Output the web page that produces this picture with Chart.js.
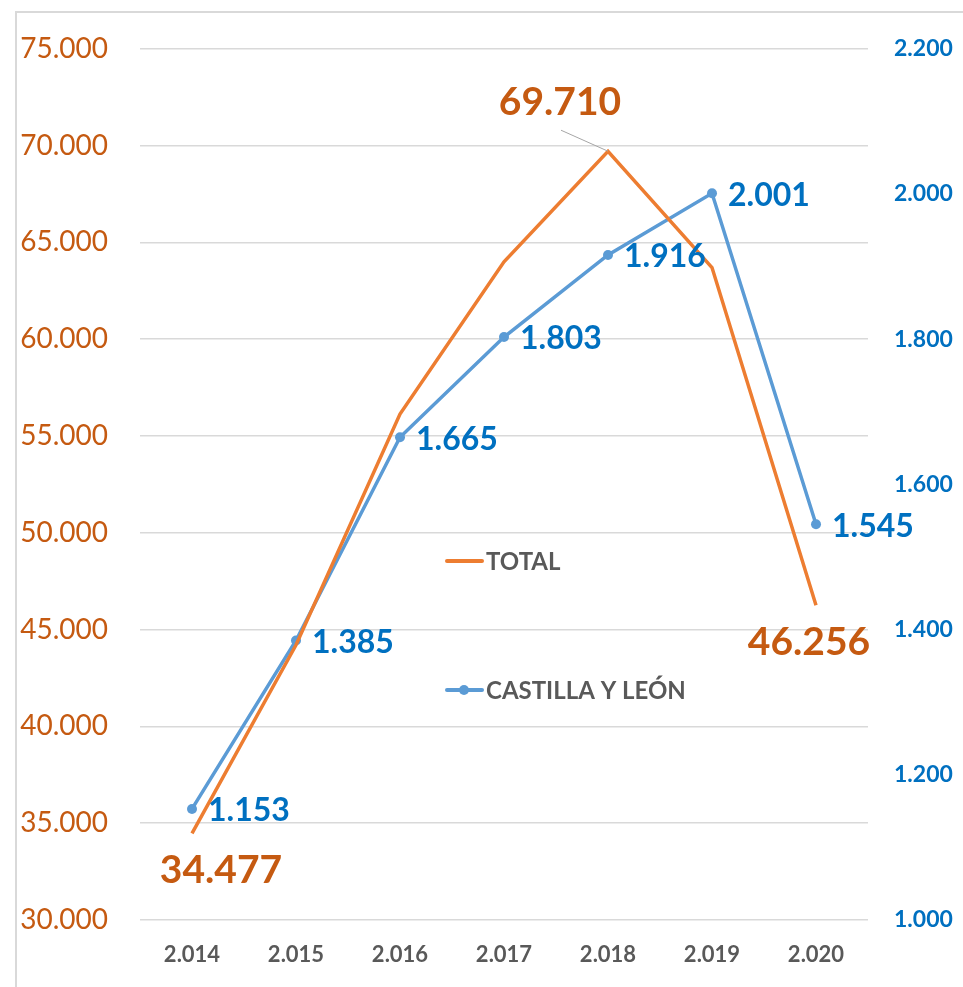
<!DOCTYPE html>
<html>
<head>
<meta charset="utf-8">
<script src="https://cdn.jsdelivr.net/npm/chart.js@4"></script>
<style>
  html, body { margin: 0; padding: 0; background: #fff; }
  #wrap { position: relative; width: 963px; height: 987px; overflow: hidden; }
  #frame { position: absolute; left: 15px; top: 11px; width: 1000px; height: 1000px;
           border-left: 2px solid #d9d9d9; border-top: 2px solid #d9d9d9; }
  canvas { position: absolute; left: 0; top: 0; }
</style>
</head>
<body>
<div id="wrap">
  <div id="frame"></div>
  <canvas id="chart" width="963" height="987"></canvas>
</div>
<script>
// datos
const years = ["2.014", "2.015", "2.016", "2.017", "2.018", "2.019", "2.020"];
const total = [34477, 44200, 56130, 64000, 69710, 63700, 46256];
const castilla = [1153, 1385, 1665, 1803, 1916, 2001, 1545];
const leftTicks = [30000, 75000, 5000];
const rightTicks = [1000, 2200, 200];

const ORANGE = "#ED7D31";
const ORANGE_TXT = "#C55A11";
const BLUE = "#5B9BD5";
const BLUE_TXT = "#0070C0";
const GREY = "#595959";
const FONT = "Lato, 'Open Sans', sans-serif";

function fmt(n) {
  return n.toLocaleString("de-DE");
}

// etiquetas de los puntos
const valueLabels = {
  id: "valueLabels",
  afterDatasetsDraw(chart) {
    const ctx = chart.ctx;
    ctx.save();

    // serie azul: etiqueta a la derecha de cada punto
    const blue = chart.getDatasetMeta(1).data;
    ctx.font = "bold 32px " + FONT;
    ctx.fillStyle = BLUE_TXT;
    ctx.textAlign = "left";
    ctx.textBaseline = "middle";
    blue.forEach((p, i) => {
      ctx.fillText(fmt(castilla[i]), p.x + 16, p.y + 2);
    });

    // serie naranja: solo primero, máximo y último
    const orange = chart.getDatasetMeta(0).data;
    ctx.font = "bold 39px " + FONT;
    ctx.fillStyle = ORANGE_TXT;
    ctx.textAlign = "center";
    const shown = [
      { i: 0, dx: 29, dy: 37 },
      { i: 4, dx: -48, dy: -49 },
      { i: 6, dx: -7, dy: 37 },
    ];
    shown.forEach((s) => {
      const p = orange[s.i];
      ctx.fillText(fmt(total[s.i]), p.x + s.dx, p.y + s.dy);
    });

    // línea guía del máximo
    const peak = orange[4];
    ctx.strokeStyle = "#a6a6a6";
    ctx.lineWidth = 1;
    ctx.beginPath();
    ctx.moveTo(peak.x - 47, peak.y - 21);
    ctx.lineTo(peak.x, peak.y);
    ctx.stroke();
    ctx.restore();
  },
};

// leyenda dentro del gráfico
const innerLegend = {
  id: "innerLegend",
  afterDraw(chart) {
    const ctx = chart.ctx;
    const items = [
      { text: "TOTAL", color: ORANGE, marker: false, y: 561 },
      { text: "CASTILLA Y LEÓN", color: BLUE, marker: true, y: 690 },
    ];
    ctx.save();
    ctx.font = "bold 24px " + FONT;
    ctx.textAlign = "left";
    ctx.textBaseline = "middle";
    items.forEach((it) => {
      ctx.strokeStyle = it.color;
      ctx.lineWidth = 4;
      ctx.lineCap = "round";
      ctx.beginPath();
      ctx.moveTo(447, it.y);
      ctx.lineTo(482, it.y);
      ctx.stroke();
      if (it.marker) {
        ctx.fillStyle = it.color;
        ctx.beginPath();
        ctx.arc(464, it.y, 5, 0, Math.PI * 2);
        ctx.fill();
      }
      ctx.fillStyle = GREY;
      ctx.fillText(it.text, 486, it.y + 1);
    });
    ctx.restore();
  },
};

new Chart(document.getElementById("chart"), {
  type: "line",
  data: {
    labels: years,
    datasets: [
      {
        label: "TOTAL",
        data: total,
        borderColor: ORANGE,
        borderWidth: 3.5,
        pointRadius: 0,
        tension: 0,
        yAxisID: "y",
      },
      {
        label: "CASTILLA Y LEÓN",
        data: castilla,
        borderColor: BLUE,
        backgroundColor: BLUE,
        borderWidth: 3.5,
        pointRadius: 5,
        pointBorderWidth: 0,
        tension: 0,
        yAxisID: "y1",
      },
    ],
  },
  options: {
    responsive: false,
    animation: false,
    layout: { padding: { top: 47, left: 0, right: 0, bottom: 0 } },
    plugins: {
      legend: { display: false },
      tooltip: { enabled: false },
    },
    scales: {
      x: {
        offset: true,
        grid: { display: false, offset: true },
        border: { display: false },
        ticks: {
          color: GREY,
          font: { family: FONT, size: 22, weight: "bold" },
          padding: 14,
        },
        afterFit(scale) { scale.height = 67; },
      },
      y: {
        position: "left",
        min: leftTicks[0],
        max: leftTicks[1],
        grid: { color: "#d9d9d9", lineWidth: 1.5, drawTicks: false },
        border: { display: false },
        ticks: {
          stepSize: leftTicks[2],
          color: ORANGE_TXT,
          font: { family: FONT, size: 28 },
          padding: 32,
          callback: (v) => fmt(v),
        },
        afterFit(scale) { scale.width = 140; },
      },
      y1: {
        position: "right",
        min: rightTicks[0],
        max: rightTicks[1],
        grid: { display: false },
        border: { display: false },
        ticks: {
          stepSize: rightTicks[2],
          color: BLUE_TXT,
          font: { family: FONT, size: 23, weight: "bold" },
          padding: 18,
          callback: (v) => fmt(v),
        },
        afterFit(scale) { scale.width = 95; },
      },
    },
  },
  plugins: [valueLabels, innerLegend],
});
</script>
</body>
</html>
